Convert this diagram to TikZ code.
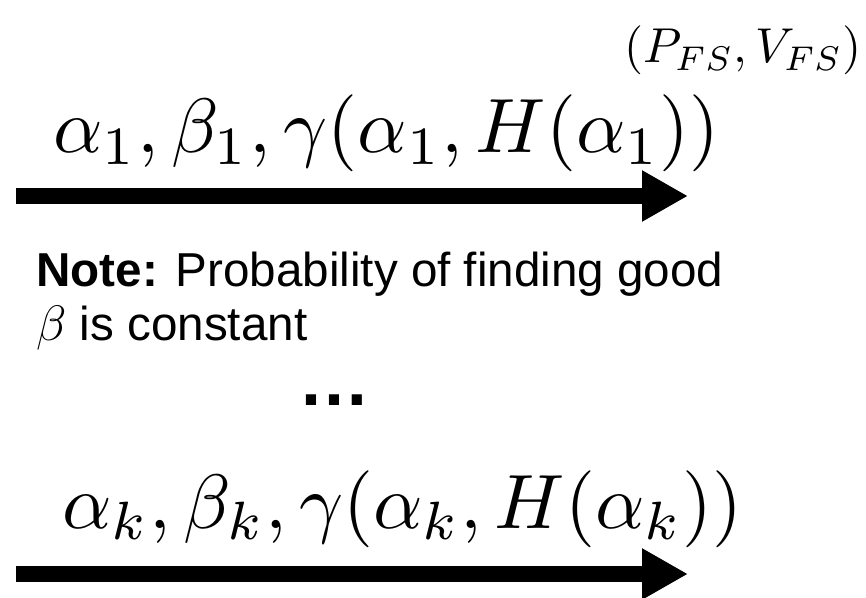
\documentclass[tikz,border=0pt]{standalone}
\usepackage[no-math]{fontspec}
\setmainfont{Liberation Sans}
\usetikzlibrary{arrows.meta,positioning}

\newcommand{\bigmath}[1]{\scalebox{3.85}{\fontsize{10}{12}\selectfont$#1$}}
\newcommand{\midmath}[1]{\scalebox{2.45}{\fontsize{10}{12}\selectfont$#1$}}

\begin{document}
\begin{tikzpicture}[
  x=0.5pt, y=-0.5pt,
  formula/.style={inner sep=0pt},
  note/.style={inner sep=0pt, font=\fontsize{23.8}{28}\selectfont},
  dots/.style={inner sep=0pt, font=\fontsize{36}{40}\selectfont\bfseries},
  fatarrow/.style={line width=8pt, -{Triangle[length=23pt, width=24pt]}}
]
\useasboundingbox (0,0) rectangle (866,598);

\node[formula, anchor=base east] (output) at (862,63) {\midmath{(P_{FS}, V_{FS})}};
\node[formula, anchor=base west] (first) at (53,153) {\bigmath{\alpha_1, \beta_1, \gamma(\alpha_1, H(\alpha_1))}};

\coordinate (start1) at (16,196);
\coordinate (end1) at (688,196);
\draw[fatarrow] (start1) -- (end1);

\node[note, anchor=base west] (note) at (36,287) {\textbf{Note:} Probability of finding good};
\node[note, anchor=base west] (notebeta) at (36,341) {$\beta$ is constant};

\node[dots, anchor=base] (skip) at (334,405) {…};

\node[formula, anchor=base west] (last) at (62,528) {\bigmath{\alpha_k, \beta_k, \gamma(\alpha_k, H(\alpha_k))}};

\coordinate (startk) at (16,574);
\coordinate (endk) at (688,574);
\draw[fatarrow] (startk) -- (endk);
\end{tikzpicture}
\end{document}
